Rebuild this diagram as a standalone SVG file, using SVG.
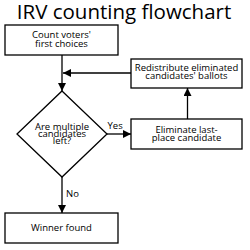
<svg xmlns="http://www.w3.org/2000/svg" width="250" height="250" viewBox="0 0 250 250">
<defs>
<marker id="ah" viewBox="0 0 10 10" refX="10" refY="5" markerWidth="8" markerHeight="8" markerUnits="userSpaceOnUse" orient="auto">
<path d="M0,0 L10,5 L0,10 z" fill="#000"/>
</marker>
<style>
.box{fill:#fff;stroke:#000;stroke-width:1.3}
.t{font-family:"Open Sans","Noto Sans",sans-serif;font-size:9.5px;text-anchor:middle;fill:#000}
.lbl{font-family:"Open Sans","Noto Sans",sans-serif;font-size:9.5px;fill:#000}
.c{fill:none;stroke:#000;stroke-width:1.3;marker-end:url(#ah)}
</style>
</defs>
<rect width="250" height="250" fill="#fff"/>
<text x="124" y="19" style="font-family:'Open Sans','Noto Sans',sans-serif;font-size:20.5px;text-anchor:middle">IRV counting flowchart</text>
<g id="connectors">
<path class="c" d="M62,55 V91"/>
<path class="c" d="M107,134 H131"/>
<path class="c" d="M187.5,119 V88"/>
<path class="c" d="M131,73 H63"/>
<path class="c" d="M62,177 V213"/>
<text class="lbl" x="107.5" y="129">Yes</text>
<text class="lbl" x="66" y="197">No</text>
</g>
<g id="count">
<rect class="box" x="5" y="25" width="113" height="30"/>
<text class="t" x="61.5" y="38">Count voters'</text>
<text class="t" x="61.5" y="46.5">first choices</text>
</g>
<g id="redistribute">
<rect class="box" x="131" y="59" width="111" height="29"/>
<text class="t" x="186.5" y="71">Redistribute eliminated</text>
<text class="t" x="186.5" y="78.5">candidates' ballots</text>
</g>
<g id="decision">
<path class="box" d="M62,91 L107,134 L62,177 L17,134 z"/>
<text class="t" x="62" y="130">Are multiple</text>
<text class="t" x="62" y="137">candidates</text>
<text class="t" x="62" y="144">left?</text>
</g>
<g id="eliminate">
<rect class="box" x="131" y="119" width="111" height="30"/>
<text class="t" x="186.5" y="133">Eliminate last-</text>
<text class="t" x="186.5" y="140.5">place candidate</text>
</g>
<g id="winner">
<rect class="box" x="5" y="213" width="113" height="30"/>
<text class="t" x="61.5" y="231">Winner found</text>
</g>
</svg>
